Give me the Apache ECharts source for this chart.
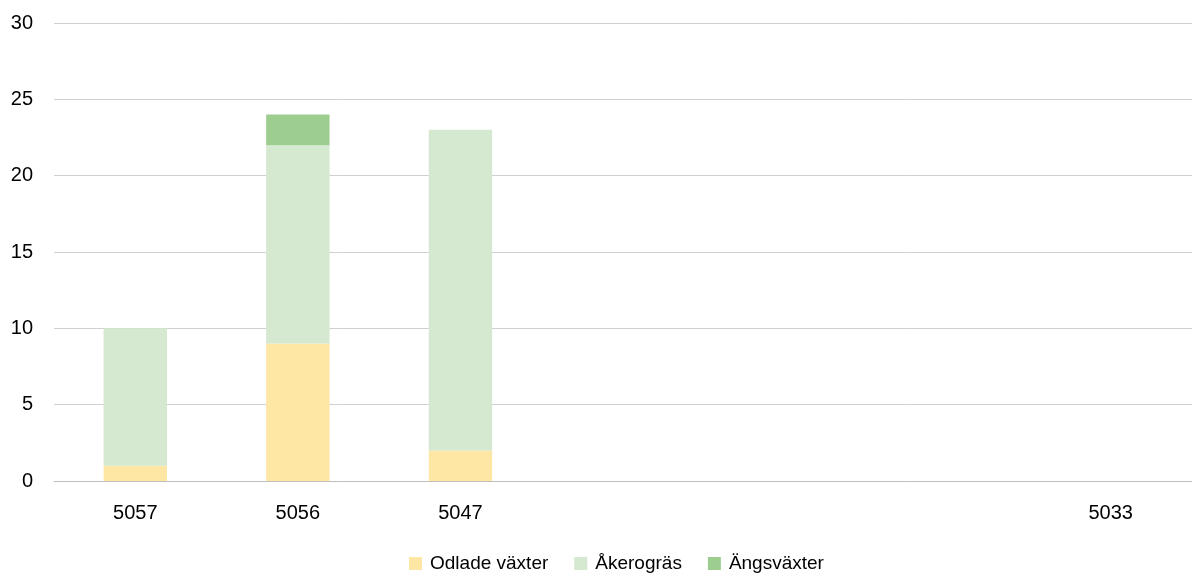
<!DOCTYPE html>
<html>
<head>
<meta charset="utf-8">
<script src="https://cdn.jsdelivr.net/npm/echarts@6/dist/echarts.min.js"></script>
<style>
  html, body { margin: 0; padding: 0; background: #fff; }
  #chart { width: 1192px; height: 576px; }
</style>
</head>
<body>
<div id="chart"></div>
<script>
// kategorier (tomma platser saknar etikett)
var categories = ['5057', '5056', '5047', '', '', '', '5033'];
var odlade = [1, 9, 2, 0, 0, 0, 0];
var akergras = [9, 13, 21, 0, 0, 0, 0];
var angsvaxter = [0, 2, 0, 0, 0, 0, 0];
var yTicks = [0, 5, 10, 15, 20, 25, 30];

var font = "'Liberation Sans Narrow', 'Arial Narrow', 'Liberation Sans', sans-serif";

var chart = echarts.init(document.getElementById('chart'));

function serie(name, data, color) {
  return {
    name: name,
    type: 'bar',
    stack: 'total',
    barWidth: '39%',
    data: data,
    itemStyle: { color: color },
    emphasis: { disabled: true }
  };
}

chart.setOption({
  animation: false,
  textStyle: { fontFamily: font },
  grid: { left: 54, top: 23, width: 1141, height: 458 },
  legend: {
    top: 549,
    left: 404,
    itemWidth: 13,
    itemHeight: 13,
    itemGap: 26,
    icon: 'rect',
    textStyle: { fontFamily: font, fontSize: 19, color: '#000', padding: [0, 0, 0, 3] },
    data: ['Odlade växter', 'Åkerogräs', 'Ängsväxter']
  },
  xAxis: {
    type: 'category',
    data: categories,
    axisLine: { lineStyle: { color: '#bfbfbf' } },
    axisTick: { show: false },
    axisLabel: { interval: 0, margin: 22, fontFamily: font, fontSize: 20, color: '#000' }
  },
  yAxis: {
    type: 'value',
    min: yTicks[0],
    max: yTicks[yTicks.length - 1],
    interval: 5,
    axisLine: { show: false },
    axisTick: { show: false },
    axisLabel: { margin: 21, fontFamily: font, fontSize: 20, color: '#000' },
    splitLine: { lineStyle: { color: '#d0d0d0' } }
  },
  series: [
    serie('Odlade växter', odlade, '#FEE6A5'),
    serie('Åkerogräs', akergras, '#D5E8D0'),
    serie('Ängsväxter', angsvaxter, '#9DCE8F')
  ]
});
</script>
</body>
</html>
